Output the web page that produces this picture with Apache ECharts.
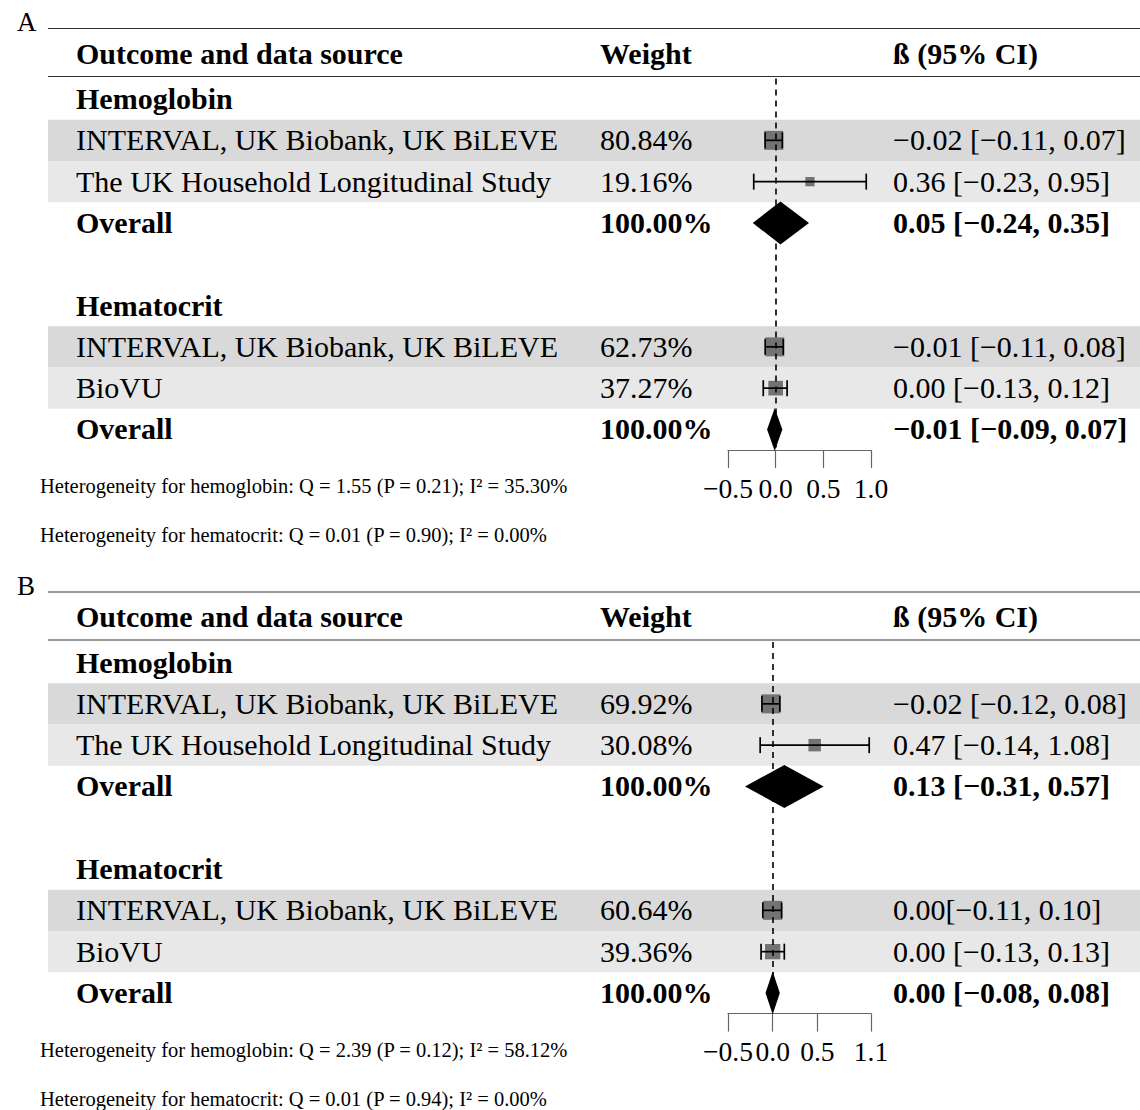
<!DOCTYPE html>
<html><head><meta charset="utf-8">
<script src="https://cdn.jsdelivr.net/npm/echarts@6/dist/echarts.min.js"></script>
<style>html,body{margin:0;padding:0;background:#fff}#c{width:1140px;height:1110px}</style>
</head><body><div id="c"></div>
<script>
// ---------- data ----------
const panelLabels = ['A', 'B'];
const headers = ['Outcome and data source', 'Weight', 'ß (95% CI)'];
const groupNames = ['Hemoglobin', 'Hematocrit'];
const studyNames = ['INTERVAL, UK Biobank, UK BiLEVE', 'The UK Household Longitudinal Study', 'INTERVAL, UK Biobank, UK BiLEVE', 'BioVU'];
const studyGroup = [0, 0, 1, 1];
const overallLabel = 'Overall';
const overallWeightText = '100.00%';

// Panel A
const weightsA = [80.84, 19.16, 62.73, 37.27];
const estA = [-0.02, 0.36, -0.01, 0.00];
const loA = [-0.11, -0.23, -0.11, -0.13];
const hiA = [0.07, 0.95, 0.08, 0.12];
const ciTextA = ['−0.02 [−0.11, 0.07]', '0.36 [−0.23, 0.95]', '−0.01 [−0.11, 0.08]', '0.00 [−0.13, 0.12]'];
const overallEstA = [0.05, -0.01];
const overallLoA = [-0.24, -0.09];
const overallHiA = [0.35, 0.07];
const overallCiTextA = ['0.05 [−0.24, 0.35]', '−0.01 [−0.09, 0.07]'];
const ticksA = [-0.5, 0.0, 0.5, 1.0];
const hetA = ['Heterogeneity for hemoglobin: Q = 1.55 (P = 0.21); I² = 35.30%',
              'Heterogeneity for hematocrit: Q = 0.01 (P = 0.90); I² = 0.00%'];

// Panel B
const weightsB = [69.92, 30.08, 60.64, 39.36];
const estB = [-0.02, 0.47, 0.00, 0.00];
const loB = [-0.12, -0.14, -0.11, -0.13];
const hiB = [0.08, 1.08, 0.10, 0.13];
const ciTextB = ['−0.02 [−0.12, 0.08]', '0.47 [−0.14, 1.08]', '0.00[−0.11, 0.10]', '0.00 [−0.13, 0.13]'];
const overallEstB = [0.13, 0.00];
const overallLoB = [-0.31, -0.08];
const overallHiB = [0.57, 0.08];
const overallCiTextB = ['0.13 [−0.31, 0.57]', '0.00 [−0.08, 0.08]'];
const ticksB = [-0.5, 0.0, 0.5, 1.1];
const hetB = ['Heterogeneity for hemoglobin: Q = 2.39 (P = 0.12); I² = 58.12%',
              'Heterogeneity for hematocrit: Q = 0.01 (P = 0.94); I² = 0.00%'];

// ---------- layout ----------
const FONT = "'Liberation Serif', 'Times New Roman', serif";
const FS = 30;
const ROW = 41.3;
const panelOffset = [0, 563.5];
const colX = [76, 600, 893];
const bandColors = ['#d9d9d9', '#e8e8e8'];

const panels = [
  {w: weightsA, est: estA, lo: loA, hi: hiA, ci: ciTextA, oe: overallEstA, ol: overallLoA, oh: overallHiA, oci: overallCiTextA, ticks: ticksA, het: hetA},
  {w: weightsB, est: estB, lo: loB, hi: hiB, ci: ciTextB, oe: overallEstB, ol: overallLoB, oh: overallHiB, oci: overallCiTextB, ticks: ticksB, het: hetB}
];

function fmtTick(v) {
  const s = Math.abs(v).toFixed(1);
  return v < 0 ? '−' + s : s;
}
function groupRow(g) { return 1 + 5 * g; }
function overallRow(g) { return 4 + 5 * g; }
function studyRow(i) {
  const g = studyGroup[i];
  let k = 0;
  for (let j = 0; j < i; j++) if (studyGroup[j] === g) k++;
  return groupRow(g) + 1 + k;
}
function studyRank(i) { return studyRow(i) - groupRow(studyGroup[i]) - 1; }

const grids = [], xAxes = [], yAxes = [], series = [], graphics = [];

panels.forEach((P, p) => {
  const off = panelOffset[p];
  grids.push({left: 728, width: 143, top: 78.4 + off, height: 9 * ROW});
  xAxes.push({
    gridIndex: p, type: 'value', min: P.ticks[0], max: P.ticks[P.ticks.length - 1],
    position: 'bottom',
    splitLine: {show: false},
    axisLine: {show: true, onZero: false, lineStyle: {color: '#666', width: 1.2}},
    axisTick: {show: true, length: 18, lineStyle: {color: '#666', width: 1.2}, customValues: P.ticks},
    axisLabel: {customValues: P.ticks, formatter: fmtTick, fontSize: 27.5, fontFamily: FONT, color: '#000', margin: 24}
  });
  yAxes.push({gridIndex: p, type: 'value', min: 0.5, max: 9.5, inverse: true, show: false});

  // background bands for study rows
  series.push({
    type: 'custom', xAxisIndex: p, yAxisIndex: p, clip: false, z: 1, silent: true,
    data: P.est.map((e, i) => [0, studyRow(i), studyRank(i)]),
    renderItem: (params, api) => {
      const r = api.value(1);
      const y0 = api.coord([0, r - 0.5])[1];
      const y1 = api.coord([0, r + 0.5])[1];
      return {type: 'rect', shape: {x: 48, y: y0, width: 1092, height: y1 - y0},
              style: {fill: bandColors[api.value(2)]}};
    }
  });

  // table texts
  const texts = [];
  groupNames.forEach((gname, g) => {
    texts.push({row: groupRow(g), col: 0, text: gname, bold: true});
    texts.push({row: overallRow(g), col: 0, text: overallLabel, bold: true});
    texts.push({row: overallRow(g), col: 1, text: overallWeightText, bold: true});
    texts.push({row: overallRow(g), col: 2, text: P.oci[g], bold: true});
  });
  studyNames.forEach((n, i) => {
    texts.push({row: studyRow(i), col: 0, text: n, bold: false});
    texts.push({row: studyRow(i), col: 1, text: P.w[i].toFixed(2) + '%', bold: false});
    texts.push({row: studyRow(i), col: 2, text: P.ci[i], bold: false});
  });
  series.push({
    type: 'custom', xAxisIndex: p, yAxisIndex: p, clip: false, z: 2, silent: true,
    data: texts.map(t => [0, t.row]),
    renderItem: (params, api) => {
      const t = texts[params.dataIndex];
      const y = api.coord([0, t.row])[1] - 0.5;
      return {type: 'text', x: colX[t.col], y: y,
              style: {text: t.text, fill: '#000', align: 'left', verticalAlign: 'middle',
                      font: (t.bold ? 'bold ' : '') + FS + 'px ' + FONT}};
    }
  });

  // squares + CI whiskers
  const maxW = [0, 1].map(g => Math.max(...P.w.filter((w, i) => studyGroup[i] === g)));
  series.push({
    type: 'custom', xAxisIndex: p, yAxisIndex: p, clip: false, z: 3, silent: true,
    data: P.est.map((e, i) => [e, studyRow(i), P.lo[i], P.hi[i], P.w[i], studyGroup[i]]),
    renderItem: (params, api) => {
      const c = api.coord([api.value(0), api.value(1)]);
      const a = api.coord([api.value(2), api.value(1)]);
      const b = api.coord([api.value(3), api.value(1)]);
      const s = 19 * Math.sqrt(api.value(4) / maxW[api.value(5)]);
      const cap = 8;
      const ls = {stroke: '#000', lineWidth: 1.7};
      return {type: 'group', children: [
        {type: 'rect', shape: {x: c[0] - s / 2, y: c[1] - s / 2, width: s, height: s}, style: {fill: '#737373'}},
        {type: 'line', shape: {x1: a[0], y1: c[1], x2: b[0], y2: c[1]}, style: ls},
        {type: 'line', shape: {x1: a[0], y1: c[1] - cap, x2: a[0], y2: c[1] + cap}, style: ls},
        {type: 'line', shape: {x1: b[0], y1: c[1] - cap, x2: b[0], y2: c[1] + cap}, style: ls}
      ]};
    }
  });

  // overall diamonds
  series.push({
    type: 'custom', xAxisIndex: p, yAxisIndex: p, clip: false, z: 3, silent: true,
    data: P.oe.map((e, g) => [e, overallRow(g), P.ol[g], P.oh[g]]),
    renderItem: (params, api) => {
      const c = api.coord([api.value(0), api.value(1)]);
      const a = api.coord([api.value(2), api.value(1)]);
      const b = api.coord([api.value(3), api.value(1)]);
      const h = 21.5;
      return {type: 'polygon', shape: {points: [[a[0], c[1]], [c[0], c[1] - h], [b[0], c[1]], [c[0], c[1] + h]]},
              style: {fill: '#000'}};
    }
  });

  // dashed reference line at 0
  series.push({
    type: 'line', xAxisIndex: p, yAxisIndex: p, data: [], z: 6, silent: true,
    markLine: {silent: true, symbol: ['none', 'none'], label: {show: false}, animation: false,
               lineStyle: {color: '#000', type: [6, 5], width: 1.6}, data: [{xAxis: 0}]}
  });

  // static decorations: panel letter, rules, headers, heterogeneity notes
  graphics.push({type: 'text', x: 17, y: 22 + off, style: {text: panelLabels[p], font: '27px ' + FONT, fill: '#000', verticalAlign: 'middle'}});
  graphics.push({type: 'line', shape: {x1: 48, y1: 28.5 + off, x2: 1140, y2: 28.5 + off}, style: {stroke: '#333', lineWidth: 1.2}});
  graphics.push({type: 'line', shape: {x1: 48, y1: 76.5 + off, x2: 1140, y2: 76.5 + off}, style: {stroke: '#333', lineWidth: 1.2}});
  headers.forEach((h, k) => {
    graphics.push({type: 'text', x: colX[k], y: 53 + off, style: {text: h, font: 'bold ' + FS + 'px ' + FONT, fill: '#000', verticalAlign: 'middle'}});
  });
  P.het.forEach((h, k) => {
    graphics.push({type: 'text', x: 40, y: 486 + 49 * k + off, style: {text: h, font: '20.5px ' + FONT, fill: '#000', verticalAlign: 'middle'}});
  });
});

const chart = echarts.init(document.getElementById('c'), null, {renderer: 'svg'});
chart.setOption({
  animation: false,
  backgroundColor: '#fff',
  grid: grids, xAxis: xAxes, yAxis: yAxes,
  series: series,
  graphic: {elements: graphics}
});
</script></body></html>
